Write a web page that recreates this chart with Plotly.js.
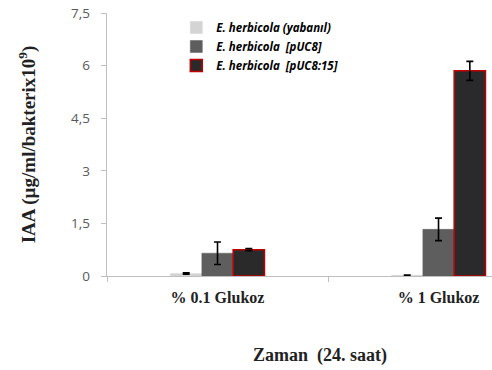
<!DOCTYPE html>
<html><head><meta charset="utf-8">
<script src="https://cdn.plot.ly/plotly-3.0.1.min.js"></script>
<style>html,body{margin:0;padding:0;background:#fff}#chart{width:492px;height:370px}</style>
</head><body><div id="chart"></div>
<script>
const categories = ["% 0.1 Glukoz", "% 1 Glukoz"];
const seriesNames = ["<i><b>E. herbicola (yabanıl)</b></i>", "<i><b>E. herbicola  [pUC8]</b></i>", "<i><b>E. herbicola  [pUC8:15]</b></i>"];
const yabanil = [0.07, 0.02];
const yabanilErr = [0.02, 0.01];
const pUC8 = [0.65, 1.33];
const pUC8Err = [0.32, 0.32];
const pUC8_15 = [0.75, 5.85];
const pUC8_15Err = [0.03, 0.27];

const colors = ["#d4d4d4", "#5e5e5e", "#2a2a2a"];
const vals = [yabanil, pUC8, pUC8_15];
const errs = [yabanilErr, pUC8Err, pUC8_15Err];

const traces = vals.map((v, i) => ({
  type: "bar",
  name: seriesNames[i],
  x: categories,
  y: v,
  marker: {color: colors[i], line: {color: i === 2 ? "#c00000" : colors[i], width: i === 2 ? 1.5 : 0.5}},
  error_y: {type: "data", array: errs[i], visible: true, color: "#000", thickness: 1.6, width: 3.5}
}));

const layout = {
  width: 492, height: 370,
  margin: {l: 107, r: 0, t: 13, b: 94},
  paper_bgcolor: "#fff", plot_bgcolor: "#fff",
  separators: ",.",
  barmode: "group", bargap: 0.575, bargroupgap: 0,
  showlegend: true,
  legend: {x: 0.18, y: 1.0, xanchor: "left", yanchor: "top", bgcolor: "rgba(0,0,0,0)",
           font: {family: "Open Sans, sans-serif", size: 11.5, color: "#000"}, tracegroupgap: 0, traceorder: "normal"},
  xaxis: {
    type: "category", range: [-0.5, 1.242], tickson: "boundaries",
    showline: true, linecolor: "#bfbfbf", linewidth: 1.3,
    ticks: "outside", ticklen: 5, tickcolor: "#bfbfbf",
    showgrid: false, zeroline: false, ticklabelstandoff: 6,
    tickfont: {family: "Liberation Serif, serif", size: 16, color: "#222", weight: "bold"}
  },
  yaxis: {
    range: [0, 7.5], dtick: 1.5, tick0: 0,
    showline: true, linecolor: "#bfbfbf", linewidth: 1.3,
    ticks: "outside", ticklen: 5, tickcolor: "#bfbfbf",
    showgrid: false, zeroline: false, ticklabelstandoff: 8,
    tickfont: {family: "Open Sans, sans-serif", size: 13.5, color: "#595959"},
    title: {text: "IAA (µg/ml/bakterix10<sup>9</sup>)", standoff: 30,
            font: {family: "Liberation Serif, serif", size: 19, color: "#222", weight: "bold"}}
  },
  annotations: [{
    text: "<b>Zaman  (24. saat)</b>", xref: "paper", yref: "paper",
    x: (320 - 107) / 385, y: -(355 - 276) / 263, xanchor: "center", yanchor: "middle",
    showarrow: false, font: {family: "Liberation Serif, serif", size: 18, color: "#222"}
  }]
};

Plotly.newPlot("chart", traces, layout, {displayModeBar: false, staticPlot: true});
</script></body></html>
